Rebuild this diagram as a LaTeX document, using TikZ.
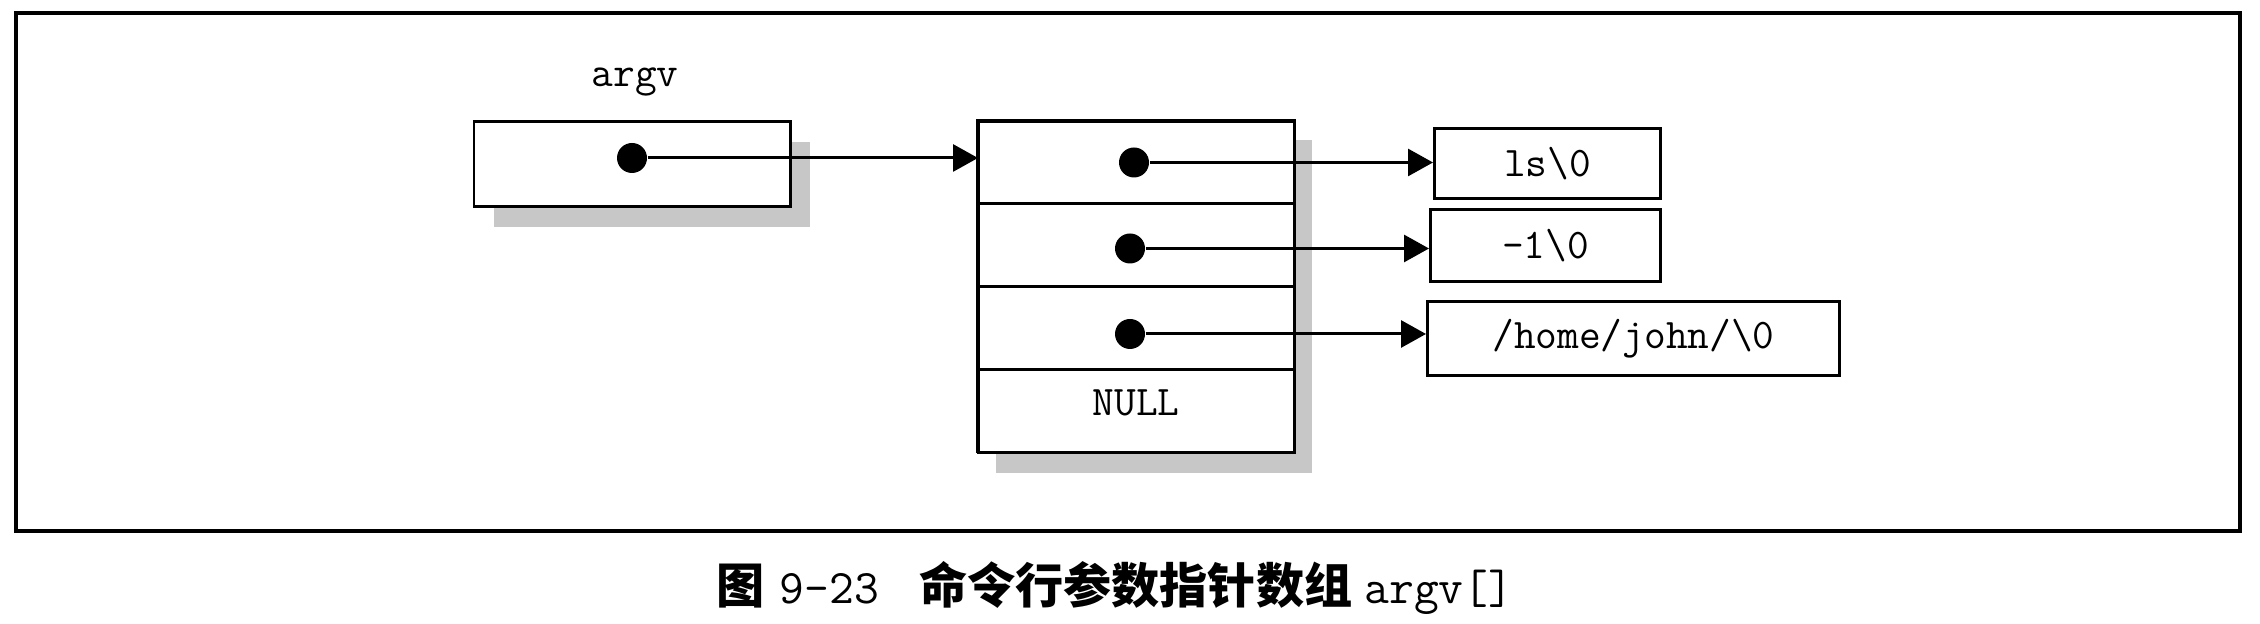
\documentclass[tikz,border=0pt]{standalone}
\usepackage{fontspec}
\usetikzlibrary{positioning,shapes,backgrounds}
\usetikzlibrary{arrows.meta}
\usepackage{xcolor}
\newfontfamily\cjk{Noto Sans CJK SC}

\begin{document}
\begin{tikzpicture}
[node distance = 0cm, auto,
>={Triangle[length=0.25cm,width=0.27cm]},
% The cell style is used to draw the pointer cells
cell/.style={rectangle, draw, line width=0.85pt, fill=white, inner sep=0pt, outer sep=0pt, minimum width=3.16cm, minimum height=0.83cm, font=\fontsize{12}{14}\selectfont\ttfamily},
% The str style is used to draw the strings
str/.style={rectangle, draw, line width=0.85pt, inner sep=0pt, minimum height=0.72cm, font=\fontsize{12}{14}\selectfont\ttfamily},
% The dot style is used to draw the pointers
dot/.style={circle, fill=black, inner sep=0pt, minimum size=0.3cm},
grayshadow/.style={fill=black!22}
]
\useasboundingbox (0,0) rectangle (22.6,6.24);
\draw[line width=1.1pt] (0.16,0.93) rectangle (22.40,6.11);

% Draw argv
\node [font=\fontsize{12}{14}\selectfont\ttfamily, anchor=base] (name) at (6.35,5.37) {argv};
\node [cell, minimum height=0.85cm] (argv) at (6.32,4.595) {};
\node [dot] (p) at (6.32,4.66) {};

% Draw the array
\node [cell] (c1) at (11.36,4.615) {};
\node [cell, below=of c1] (c2) {};
\node [cell, below=of c2] (c3) {};
\node [cell, below=of c3] (c4) {};
\node [font=\fontsize{12}{14}\selectfont\ttfamily, yshift=0.09cm] (null) at (c4.center) {NULL};
\draw[line width=1.4pt] (c4.south west) -- (c1.north west) -- (c1.north east);
\node [dot] (d1) at ([xshift=-0.02cm]c1.center) {};
\node [dot] (d2) at ([xshift=-0.06cm,yshift=-0.03cm]c2.center) {};
\node [dot] (d3) at ([xshift=-0.06cm,yshift=-0.055cm]c3.center) {};

\begin{scope}[on background layer]
\fill[grayshadow] ([xshift=0.2cm,yshift=-0.2cm]argv.north west) rectangle ([xshift=0.2cm,yshift=-0.2cm]argv.south east);
\fill[grayshadow] ([xshift=0.18cm,yshift=-0.19cm]c1.north west) rectangle ([xshift=0.18cm,yshift=-0.2cm]c4.south east);
\end{scope}

% Draw strings
\node [str, minimum width=2.26cm, minimum height=0.70cm, right=1.39cm of c1, yshift=-0.015cm] (s1) {ls\textbackslash0};
\node [str, minimum width=2.30cm, right=1.35cm of c2] (s2) {-1\textbackslash0};
\node [str, minimum width=4.12cm, minimum height=0.74cm, right=1.32cm of c3, yshift=-0.105cm] (s3) {/home/john/\textbackslash0};

\draw[->, line width=0.85pt] (p) -- (p -| c1.west);
\draw[->, line width=0.85pt] (d1) -- (d1 -| s1.west);
\draw[->, line width=0.85pt] (d2) -- (d2 -| s2.west);
\draw[->, line width=0.85pt] (d3) -- (d3 -| s3.west);

\node [font=\fontsize{13.7}{16}\selectfont\ttfamily] (caption) at (11.15,0.36) {{\cjk\bfseries 图}\hspace{0.15cm}9-23\hspace{0.4cm}{\cjk\bfseries 命令行参数指针数组}\hspace{0.12cm}argv[]};
\end{tikzpicture}
\end{document}
